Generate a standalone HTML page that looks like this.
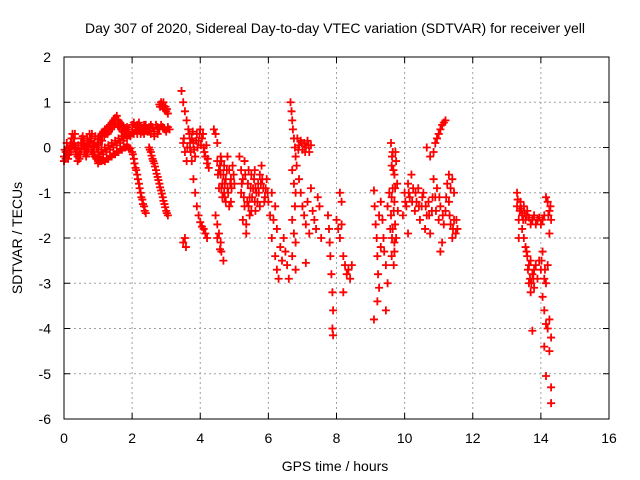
<!DOCTYPE html>
<html><head><meta charset="utf-8"><style>
html,body{margin:0;padding:0;background:#fff;}
svg{display:block;font-family:"Liberation Sans",sans-serif;}
</style></head><body>
<svg id="chart" width="640" height="480">
<rect x="0" y="0" width="640" height="480" fill="#fff"/>
<text x="335" y="33" text-anchor="middle" font-size="14">Day 307 of 2020, Sidereal Day-to-day VTEC variation (SDTVAR) for receiver yell</text>
<g id="grid"></g>
<g id="ticks"></g>
<g id="marks"></g>
<rect x="64" y="57" width="545" height="362" fill="none" stroke="#000" stroke-width="1"/>
<text x="335" y="471" text-anchor="middle" font-size="14">GPS time / hours</text>
<text transform="translate(22,238) rotate(-90)" text-anchor="middle" font-size="14">SDTVAR / TECUs</text>
</svg>
<script>
const xTicks=[0,2,4,6,8,10,12,14,16];
const yTicks=[-6,-5,-4,-3,-2,-1,0,1,2];
const obs=[
[0,-0.2],[0.05,-0.1],[0.1,0],[0.15,-0.15],[0.2,0.1],[0.25,0.3],[0.3,0.2],[0.35,0],[0.4,-0.2],[0.45,-0.1],[0.5,0.1],[0.55,0.25],[0.6,0.15],[0.65,0],[0.7,0.1],[0.75,0.3],[0.8,0.2],[0.85,0.05],[0.9,0.1],[0.95,0],[1.0,0.2],[1.05,0.25],[1.1,0.3],[1.15,0.35],[1.2,0.4],[1.25,0.4],[1.3,0.45],[1.35,0.5],[1.4,0.55],[1.45,0.6],[1.5,0.65],[1.55,0.7],[1.6,0.6],[1.65,0.55],[1.7,0.5],[1.75,0.45],[1.8,0.4],[1.85,0.45],[1.9,0.4],
[0,-0.3],[0.05,-0.25],[0.1,-0.15],[0.15,-0.05],[0.2,-0.1],[0.25,0.05],[0.3,0],[0.35,-0.15],[0.4,-0.3],[0.45,-0.25],[0.5,-0.05],[0.55,0.05],[0.6,-0.1],[0.65,-0.2],[0.7,-0.1],[0.75,0.1],[0.8,-0.05],[0.85,-0.15],[0.9,-0.2],[0.95,-0.25],[1.0,-0.3],
[0.02,-0.05],[0.08,0.1],[0.12,-0.25],[0.18,0.05],[0.22,0.2],[0.28,0.1],[0.32,0.3],[0.38,-0.1],[0.42,0.05],[0.48,-0.15],[0.52,0.2],[0.58,0.1],[0.62,-0.05],[0.68,0.2],[0.72,0],[0.78,0.15],[0.82,0.3],[0.88,-0.1],[0.92,0.25],[0.98,0.1],[1.02,0.05],[1.08,0.15],[1.12,0.15],[1.18,0.25],[1.22,0.3],[1.28,0.3],[1.32,0.35],[1.38,0.4],[1.42,0.45],[1.48,0.5],[1.52,0.55],[1.58,0.5],[1.62,0.45],[1.68,0.4],[1.72,0.35],[1.78,0.3],[1.82,0.35],[1.88,0.3],
[1.0,-0.1],[1.1,-0.05],[1.2,0],[1.3,0.05],[1.4,0.1],[1.5,0.15],[1.6,0.2],[1.7,0.25],[1.8,0.3],[1.9,0.3],[2.0,0.35],[2.1,0.4],[2.2,0.4],[2.3,0.35],[2.4,0.4],[2.5,0.45],
[1.05,-0.2],[1.15,-0.15],[1.25,-0.1],[1.35,-0.05],[1.45,0],[1.55,0.05],[1.65,0.1],[1.75,0.15],[1.85,0.2],[1.95,0.25],[2.05,0.3],[2.15,0.3],[2.25,0.3],[2.35,0.3],[2.45,0.35],
[1.0,-0.35],[1.1,-0.3],[1.2,-0.3],[1.3,-0.25],[1.4,-0.2],[1.5,-0.15],[1.6,-0.1],[1.7,-0.05],[1.8,0],[1.9,0],[2.0,-0.1],[2.05,-0.25],[2.1,-0.45],[2.15,-0.6],[2.2,-0.8],[2.25,-1.0],[2.3,-1.15],[2.35,-1.3],[2.4,-1.45],
[1.05,-0.3],[1.15,-0.28],[1.25,-0.25],[1.35,-0.2],[1.45,-0.15],[1.55,-0.1],[1.65,-0.05],[1.75,0],[1.85,0.02],[1.95,-0.02],[2.02,-0.15],[2.07,-0.35],[2.12,-0.5],[2.17,-0.7],[2.22,-0.9],[2.27,-1.1],[2.32,-1.25],[2.37,-1.4],
[2.0,0.5],[2.1,0.45],[2.2,0.55],[2.3,0.4],[2.4,0.5],[2.5,0.35],[2.6,0.45],[2.7,0.5],[2.8,0.4],[2.9,0.45],[3.0,0.35],[3.1,0.4],
[2.05,0.55],[2.15,0.5],[2.25,0.45],[2.35,0.5],[2.45,0.4],[2.55,0.5],[2.65,0.35],[2.75,0.45],[2.85,0.5],[2.95,0.4],[3.05,0.45],[2.55,0.3],[2.65,0.25],[2.75,0.3],
[2.8,0.95],[2.85,1.0],[2.9,0.9],[2.95,0.85],[3.0,0.8],[3.05,0.75],[2.82,0.9],[2.88,0.95],[2.92,1.0],[2.98,0.9],[3.02,0.85],
[2.5,0],[2.55,-0.1],[2.6,-0.25],[2.65,-0.35],[2.7,-0.5],[2.75,-0.65],[2.8,-0.8],[2.85,-0.95],[2.9,-1.1],[2.95,-1.25],[3.0,-1.4],[3.05,-1.5],
[2.52,-0.05],[2.57,-0.18],[2.62,-0.3],[2.67,-0.42],[2.72,-0.58],[2.77,-0.72],[2.82,-0.88],[2.87,-1.02],[2.92,-1.18],[2.97,-1.32],[3.02,-1.45],
[3.45,1.25],[3.5,1.0],[3.55,0.8],[3.6,0.6],[3.65,0.4],[3.7,0.1],[3.75,-0.3],[3.8,-0.7],[3.85,-1.0],[3.9,-1.3],[3.95,-1.5],[4.0,-1.65],[4.05,-1.75],[4.1,-1.8],[4.15,-1.9],[4.2,-2.0],
[3.5,0.1],[3.55,-0.1],[3.6,-0.3],[3.7,0],[3.75,0.2],[3.8,0.1],[3.85,-0.2],[3.9,0.3],[3.95,0.15],[4.0,0.4],[4.05,0.2],[4.1,0],[4.15,-0.2],[4.2,-0.35],[4.25,-0.45],[3.5,-2.1],[3.55,-2.0],[3.58,-2.2],
[3.52,0.2],[3.62,0],[3.68,0.3],[3.72,-0.1],[3.78,0.35],[3.82,-0.05],[3.88,0.15],[3.92,0],[3.98,0.3],[4.02,0.05],[4.08,0.3],[4.12,-0.1],[4.18,0.05],[4.22,-0.25],
[4.4,0.4],[4.45,0.3],[4.5,0.1],[4.5,-0.3],[4.55,-0.5],[4.6,-0.6],[4.6,-0.2],[4.65,-0.8],[4.7,-0.4],[4.7,-1.0],[4.75,-0.7],[4.8,-0.2],[4.8,-0.9],[4.85,-0.5],[4.9,-0.7],[4.9,-1.2],[4.95,-0.4],[5.0,-0.8],[4.55,-0.9],[4.65,-1.1],[4.75,-1.2],[4.85,-1.3],
[4.52,-0.6],[4.58,-0.4],[4.62,-0.9],[4.68,-0.6],[4.72,-0.8],[4.78,-0.5],[4.82,-1.0],[4.88,-0.8],[4.92,-0.9],[4.98,-0.6],[4.62,-0.3],[4.72,-1.1],
[4.45,-1.5],[4.5,-1.7],[4.55,-1.9],[4.6,-2.1],[4.62,-2.3],[4.68,-2.5],[4.5,-2.0],[4.58,-2.25],
[5.15,-0.2],[5.2,-0.5],[5.2,-1.0],[5.25,-0.7],[5.3,-1.3],[5.3,-0.3],[5.35,-1.7],[5.4,-0.8],[5.45,-1.1],[5.5,-0.6],[5.5,-1.4],[5.55,-0.9],[5.6,-1.2],[5.6,-0.5],[5.65,-1.0],[5.7,-0.8],[5.75,-0.6],[5.75,-1.3],[5.8,-0.4],[5.85,-0.9],[5.9,-1.1],[5.95,-0.7],[6.0,-1.2],[6.05,-1.5],[6.1,-1.0],[6.15,-1.6],[6.2,-1.3],[6.25,-1.8],[5.25,-1.6],[5.35,-1.9],[5.45,-1.5],
[5.22,-0.8],[5.28,-1.1],[5.32,-0.6],[5.38,-1.2],[5.42,-0.5],[5.48,-0.9],[5.52,-1.1],[5.58,-0.7],[5.62,-0.9],[5.68,-1.2],[5.72,-1.0],[5.78,-0.8],[5.82,-0.7],[5.88,-1.2],[5.92,-0.9],[5.98,-1.0],[5.42,-1.3],[5.62,-1.4],
[6.65,1.0],[6.68,0.8],[6.7,0.6],[6.72,0.4],[6.75,0.2],[6.78,0],[6.8,-0.2],[6.83,-0.4],[6.7,-0.5],[6.75,-0.8],[6.8,-1.0],[6.78,-1.3],[6.7,-1.6],[6.75,-1.9],[6.8,-2.1],
[6.85,0.2],[6.9,0.05],[6.95,0.15],[7.0,-0.05],[7.05,0.1],[7.1,0],[7.15,0.15],[7.2,-0.1],[7.25,0.05],[6.88,-0.05],[6.98,0.1],[7.08,-0.1],[7.18,0.05],
[6.1,-2.0],[6.2,-2.4],[6.25,-2.7],[6.3,-2.9],[6.35,-2.2],[6.45,-2.0],[6.5,-2.3],[6.55,-2.6],[6.6,-2.9],[6.7,-2.4],[6.8,-2.7],[6.4,-2.5],
[6.9,-0.7],[6.95,-1.0],[7.0,-1.3],[7.05,-1.5],[7.1,-1.7],[7.15,-1.2],[7.2,-1.9],[7.25,-0.9],[7.3,-1.4],[7.35,-1.6],[7.4,-1.8],[7.45,-1.1],[7.5,-1.3],[7.55,-2.0],[7.1,-2.55],
[7.75,-1.5],[7.78,-1.8],[7.8,-2.1],[7.82,-2.4],[7.85,-2.8],[7.88,-3.2],[7.9,-3.6],[7.88,-4.0],[7.9,-4.15],
[8.0,-1.6],[8.05,-1.8],[8.1,-2.0],[8.15,-1.7],[8.1,-1.0],[8.15,-1.2],[8.2,-2.4],[8.25,-2.6],[8.3,-2.8],[8.35,-2.7],[8.4,-2.9],[8.2,-3.2],[8.45,-2.6],
[9.1,-0.95],[9.12,-1.3],[9.15,-1.7],[9.18,-2.0],[9.2,-2.4],[9.22,-2.8],[9.25,-3.1],[9.2,-3.4],[9.1,-3.8],[9.3,-1.2],[9.35,-1.6],[9.38,-2.0],[9.4,-2.3],[9.45,-2.6],[9.5,-3.0],[9.45,-3.6],[9.3,-2.2],[9.25,-1.5],
[9.6,0.1],[9.65,-0.1],[9.62,-0.4],[9.7,-0.6],[9.65,-0.9],[9.7,-1.2],[9.6,-1.5],[9.65,-1.8],[9.7,-2.1],[9.62,-2.4],[9.68,-2.6],[9.75,-0.3],[9.78,-0.8],[9.8,-1.4],[9.75,-2.0],[9.55,-1.0],[9.5,-1.3],
[9.63,-0.2],[9.67,-0.5],[9.72,-0.9],[9.62,-1.1],[9.68,-1.4],[9.72,-1.7],[9.63,-2.0],[9.7,-2.3],[9.58,-1.8],[9.73,-0.1],
[9.95,-1.5],[10.0,-1.0],[10.05,-1.3],[10.1,-0.8],[10.15,-1.1],[10.2,-0.6],[10.25,-0.9],[10.3,-1.4],[10.35,-1.2],[10.4,-0.9],[10.45,-1.6],[10.5,-1.3],[10.55,-1.0],[10.6,-1.8],[10.65,-1.5],[10.7,-1.2],[10.75,-1.9],[10.8,-1.4],[10.85,-0.7],[10.9,-1.1],[10.95,-0.9],[11.0,-1.6],[11.05,-1.3],[11.1,-2.1],[11.15,-1.7],[11.2,-1.4],[11.25,-0.8],[11.3,-1.2],[11.35,-1.7],[11.4,-2.0],[11.45,-1.6],[11.5,-1.9],[11.55,-1.8],[11.05,-2.3],[10.1,-1.9],
[10.02,-1.2],[10.12,-1.0],[10.22,-1.2],[10.32,-1.0],[10.42,-1.3],[10.52,-1.1],[10.62,-1.3],[10.72,-1.5],[10.82,-1.1],[10.92,-1.4],[11.02,-1.1],[11.12,-1.5],[11.22,-1.1],[11.32,-1.5],[11.42,-1.8],[11.52,-1.6],
[10.65,0],[10.75,-0.2],[10.85,-0.1],[10.9,0.1],[10.95,0.2],[11.0,0.3],[11.05,0.4],[11.1,0.5],[11.15,0.55],[11.2,0.6],[11.3,-0.6],[11.35,-0.9],[11.4,-0.7],[11.45,-1.0],
[13.3,-1.0],[13.3,-1.3],[13.35,-1.6],[13.4,-1.2],[13.45,-1.5],[13.45,-1.8],[13.5,-1.3],[13.55,-1.6],[13.6,-1.4],[13.7,-1.7],[13.8,-1.5],[13.9,-1.6],[14.0,-1.7],[14.1,-1.5],[14.2,-1.2],[14.25,-1.4],[14.3,-1.6],[14.25,-1.9],[14.15,-1.1],[13.35,-2.0],
[13.32,-1.15],[13.38,-1.4],[13.42,-1.35],[13.48,-1.6],[13.52,-1.45],[13.58,-1.5],[13.65,-1.55],[13.75,-1.6],[13.85,-1.7],[13.95,-1.55],[14.05,-1.6],[14.22,-1.5],[14.28,-1.3],
[13.5,-2.0],[13.55,-2.2],[13.6,-2.4],[13.65,-2.6],[13.7,-2.5],[13.75,-2.8],[13.8,-2.7],[13.65,-3.0],[13.7,-3.2],[13.8,-3.1],[13.9,-2.9],[13.95,-2.5],[14.0,-2.7],[14.05,-2.3],[14.1,-2.9],[14.15,-3.0],[14.2,-2.6],
[13.58,-2.3],[13.62,-2.7],[13.68,-2.9],[13.72,-3.0],[13.78,-2.9],[13.85,-2.6],[14.02,-2.5],[14.12,-2.7],
[14.05,-3.3],[14.1,-3.6],[14.15,-3.9],[14.2,-4.0],[14.25,-3.8],[14.3,-4.2],[14.25,-4.5],[13.75,-4.05],[14.1,-4.4],[14.15,-5.05],[14.3,-5.3],[14.3,-5.65]
];
const X0=64,X1=609,Y0=419,Y1=57;
function sx(t){return X0+(t-0)/(16-0)*(X1-X0);}
function sy(v){return Y0-(v-(-6))/(2-(-6))*(Y0-Y1);}
const NS="http://www.w3.org/2000/svg";
const grid=document.getElementById('grid'),ticks=document.getElementById('ticks'),marks=document.getElementById('marks');
function mk(tag,attrs,parent){const e=document.createElementNS(NS,tag);for(const k in attrs)e.setAttribute(k,attrs[k]);parent.appendChild(e);return e;}
xTicks.forEach(t=>{
  const x=sx(t);
  if(t>0&&t<16){const g=mk('line',{x1:x,y1:Y1,x2:x,y2:Y0,stroke:'#a0a0a0','stroke-dasharray':'2,3'},grid);
  
  }
  mk('line',{x1:x,y1:Y0,x2:x,y2:Y0-6,stroke:'#000'},ticks);
  mk('line',{x1:x,y1:Y1,x2:x,y2:Y1+6,stroke:'#000'},ticks);
  const l=mk('text',{x:x,y:443,'text-anchor':'middle','font-size':14},ticks);l.textContent=t;
  
  
});
yTicks.forEach(v=>{
  const y=sy(v);
  if(v>-6&&v<2){const g=mk('line',{x1:X0,y1:y,x2:X1,y2:y,stroke:'#a0a0a0','stroke-dasharray':'2,3'},grid);
  
  }
  mk('line',{x1:X0,y1:y,x2:X0+6,y2:y,stroke:'#000'},ticks);
  mk('line',{x1:X1,y1:y,x2:X1-6,y2:y,stroke:'#000'},ticks);
  const l=mk('text',{x:51,y:y+5,'text-anchor':'end','font-size':14},ticks);l.textContent=v;
  
  
});
let d='';
obs.forEach(p=>{const x=sx(p[0]),y=sy(p[1]);d+=`M${x-4},${y}h8M${x},${y-4}v8`;});
const path=mk('path',{d:d,stroke:'#ff0000','stroke-width':1.8,fill:'none'},marks);


</script>
</body></html>
